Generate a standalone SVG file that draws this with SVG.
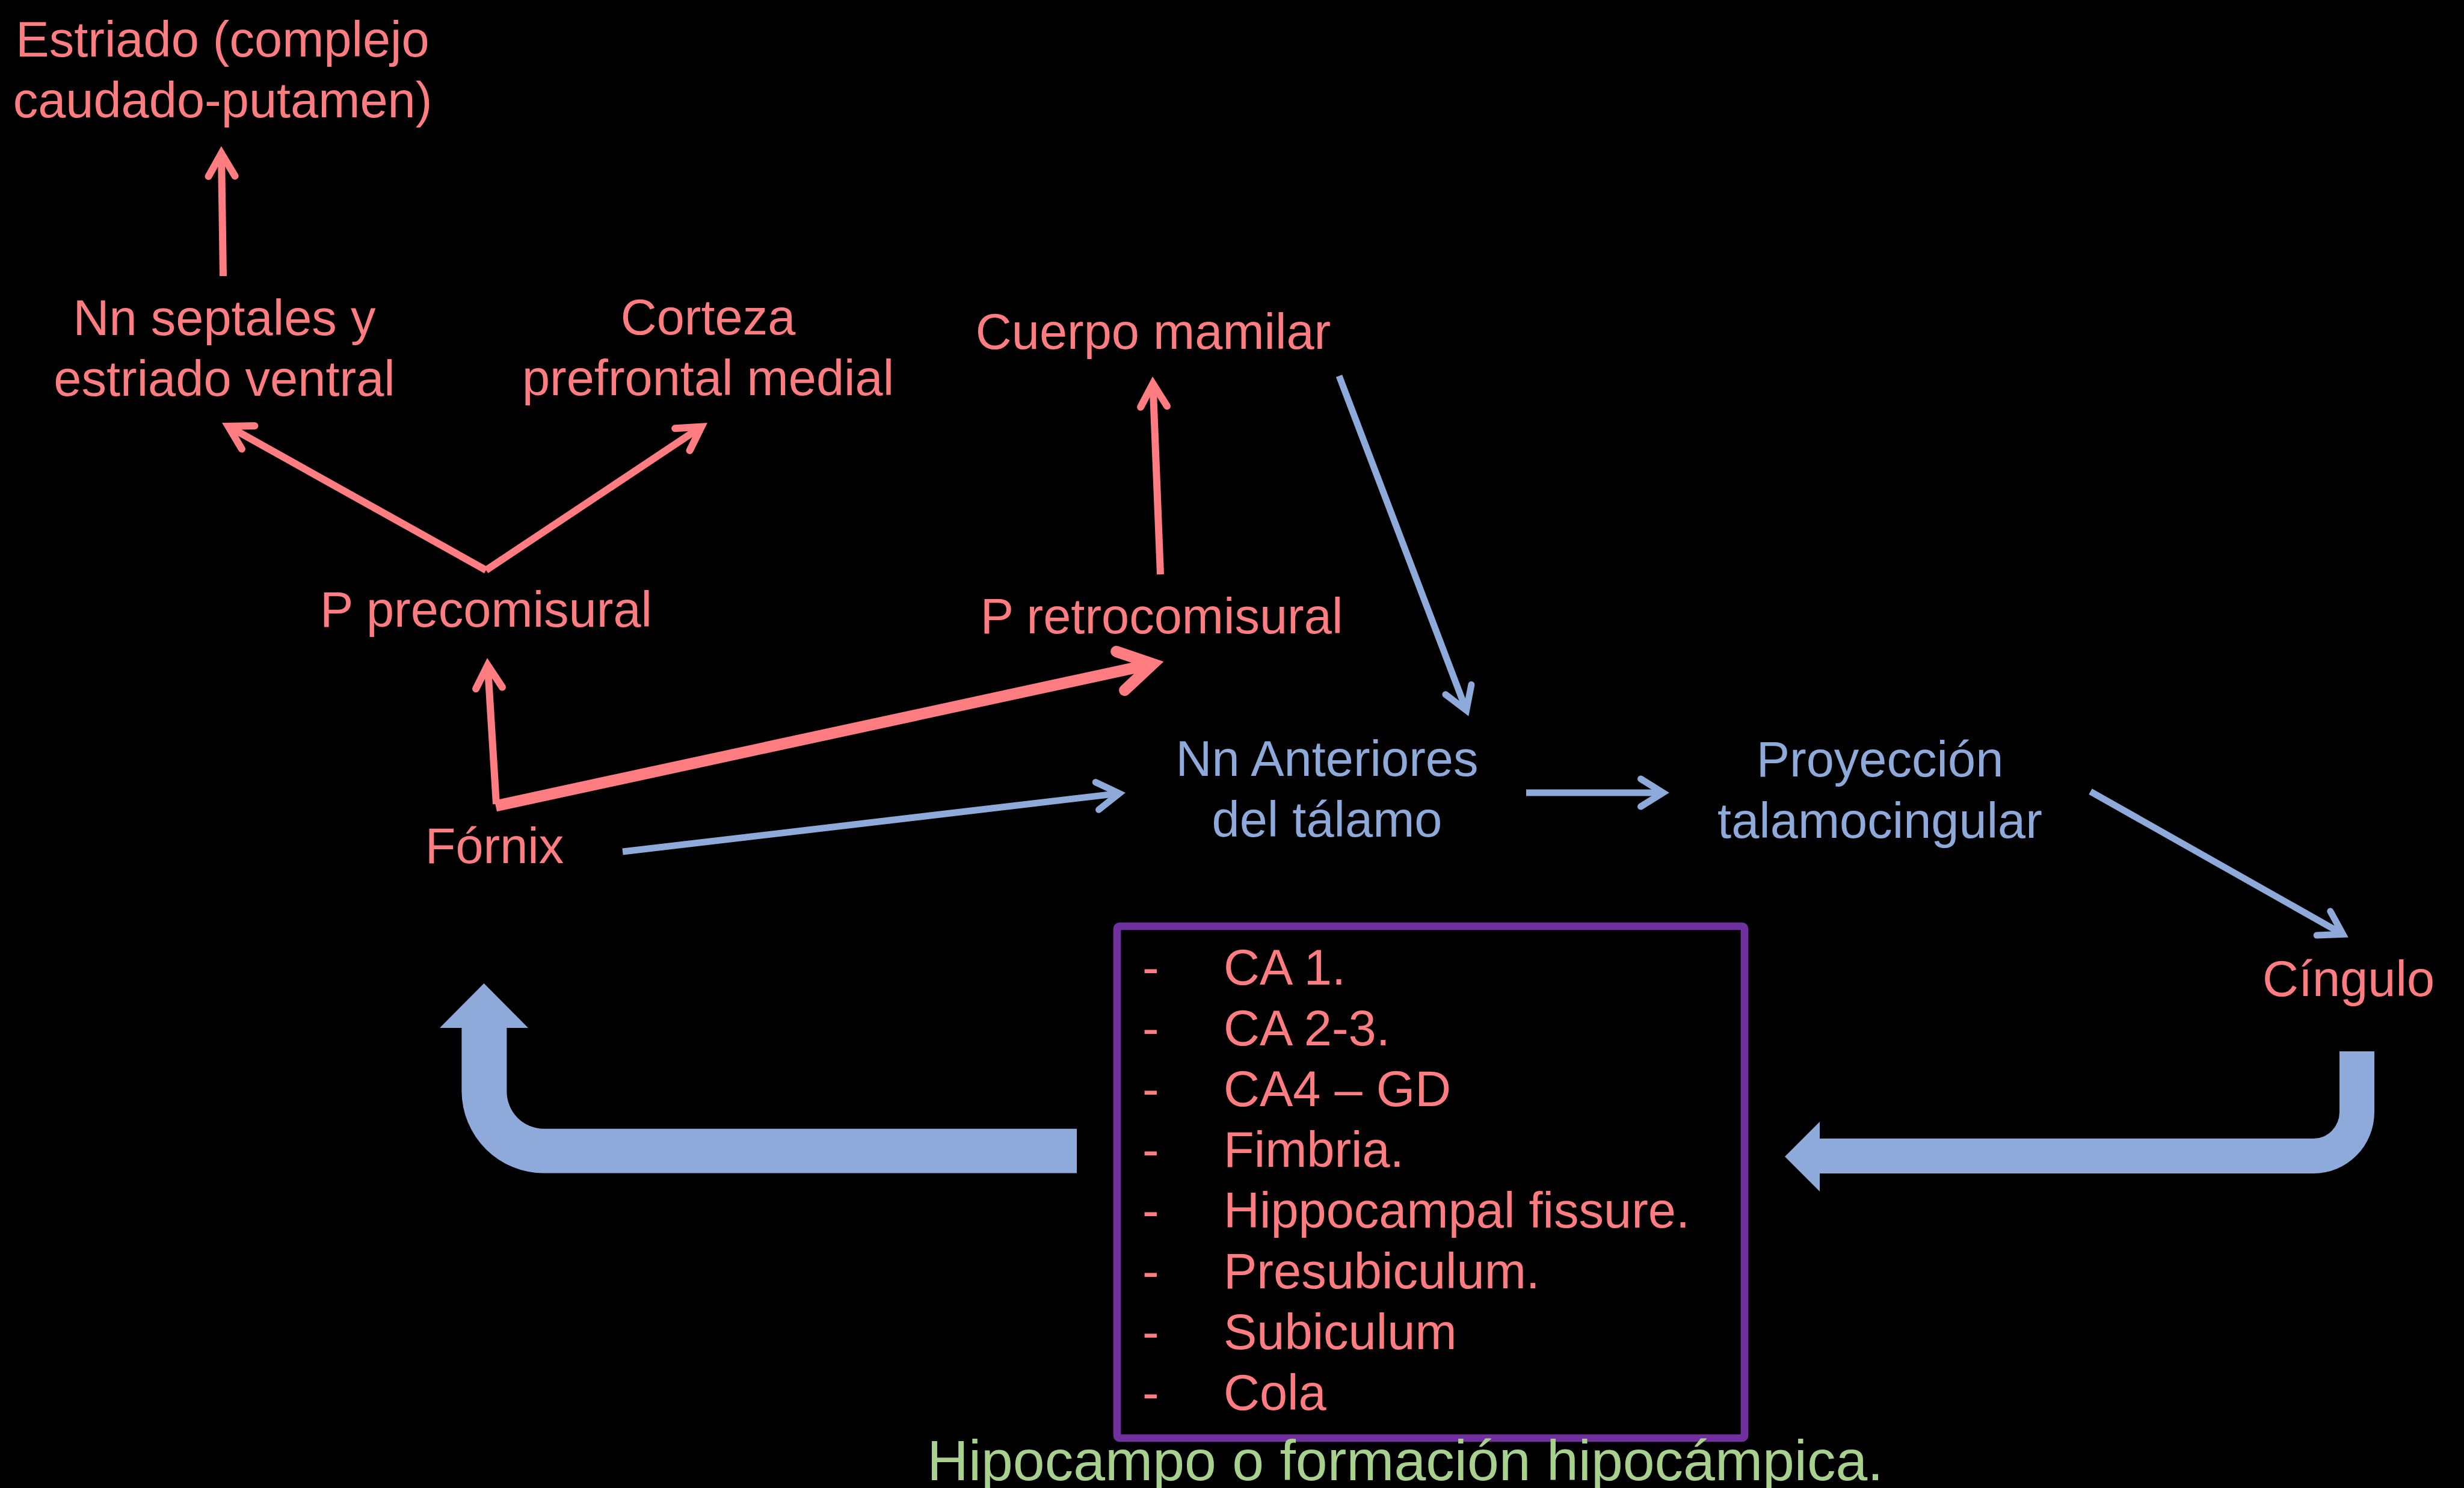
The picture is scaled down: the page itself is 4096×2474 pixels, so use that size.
<svg xmlns="http://www.w3.org/2000/svg" width="4096" height="2474" viewBox="0 0 4096 2474">
<style>
text{font-family:"Liberation Sans",Arial,Helvetica,sans-serif;font-size:83px}
.pk{fill:#FF7C80}
.bl{fill:#8EAADB}
.gr{fill:#A9D18E;font-size:95px}
.m{text-anchor:middle}
.lp{fill:none;stroke:#FF7C80;stroke-width:12}
.lpt{fill:none;stroke:#FF7C80;stroke-width:19}
.lb{fill:none;stroke:#8EAADB;stroke-width:11}
.blk{fill:#8EAADB}
</style>
<defs>
<marker id="hp" markerUnits="userSpaceOnUse" viewBox="-60 -40 90 80" refX="0" refY="0" markerWidth="90" markerHeight="80" orient="auto">
<path d="M-38,-22 L0,0 L-38,22" fill="none" stroke="#FF7C80" stroke-width="12" stroke-linecap="round" stroke-linejoin="miter"/>
</marker>
<marker id="hpt" markerUnits="userSpaceOnUse" viewBox="-80 -55 120 110" refX="0" refY="0" markerWidth="120" markerHeight="110" orient="auto">
<path d="M-55,-33 L0,0 L-55,33" fill="none" stroke="#FF7C80" stroke-width="19" stroke-linecap="round" stroke-linejoin="miter"/>
</marker>
<marker id="hb" markerUnits="userSpaceOnUse" viewBox="-60 -40 90 80" refX="0" refY="0" markerWidth="90" markerHeight="80" orient="auto">
<path d="M-37,-23 L0,0 L-37,23" fill="none" stroke="#8EAADB" stroke-width="11" stroke-linecap="round" stroke-linejoin="miter"/>
</marker>
</defs>
<rect x="0" y="0" width="4096" height="2474" fill="#000"/>

<g id="connectors">
<path class="lp" d="M371,459 L368,255" marker-end="url(#hp)"/>
<path class="lp" d="M808,948 L379.5,708.8" marker-end="url(#hp)"/>
<path class="lp" d="M808,948 L1166,709.6" marker-end="url(#hp)"/>
<path class="lp" d="M825,1337 L810.7,1106" marker-end="url(#hp)"/>
<path class="lp" d="M1929,955 L1916.5,638" marker-end="url(#hp)"/>
<path class="lpt" d="M824,1340 L1916.4,1103.8" marker-end="url(#hpt)"/>
<path class="lb" d="M2226,625 L2437.6,1181.1" marker-end="url(#hb)"/>
<path class="lb" d="M1035,1416 L1860.6,1319.1" marker-end="url(#hb)"/>
<path class="lb" d="M2537,1318 L2764.5,1318" marker-end="url(#hb)"/>
<path class="lb" d="M3475,1316 L3894.7,1553.3" marker-end="url(#hb)"/>
<path id="block-left" class="blk" d="M731,1709 L804.5,1635 L878,1709 L842.4,1709 L842.4,1814 A62,62 0 0 0 904.6,1876.8 L1790,1876.8 L1790,1950.6 L904.6,1950.6 A137,137 0 0 1 767.4,1814 L767.4,1709 Z"/>
<path id="block-right" class="blk" d="M3889,1748 L3947,1748 L3947,1849 A101,102 0 0 1 3846,1951 L3025,1951 L3025,1981 L2967,1923 L3025,1865 L3025,1893 L3846,1893 A43,44 0 0 0 3889,1849 Z"/>
</g>

<g id="estriado"><text class="pk m" x="370" y="94">Estriado (complejo</text><text class="pk m" x="370" y="195">caudado-putamen)</text></g>
<g id="nn-septales"><text class="pk m" x="373" y="557">Nn septales y</text><text class="pk m" x="373" y="658">estriado ventral</text></g>
<g id="corteza"><text class="pk m" x="1177" y="556">Corteza</text><text class="pk m" x="1177" y="657">prefrontal medial</text></g>
<g id="cuerpo-mamilar"><text class="pk m" x="1917" y="580">Cuerpo mamilar</text></g>
<g id="p-precomisural"><text class="pk m" x="808" y="1042">P precomisural</text></g>
<g id="p-retrocomisural"><text class="pk m" x="1931" y="1053">P retrocomisural</text></g>
<g id="fornix"><text class="pk m" x="822" y="1435">Fórnix</text></g>
<g id="nn-anteriores"><text class="bl m" x="2206" y="1290">Nn Anteriores</text><text class="bl m" x="2206" y="1391">del tálamo</text></g>
<g id="proyeccion"><text class="bl m" x="3125" y="1291">Proyección</text><text class="bl m" x="3125" y="1393">talamocingular</text></g>
<g id="cingulo"><text class="pk m" x="3904" y="1656">Cíngulo</text></g>

<g id="hipocampo">
<rect x="1857" y="1540" width="1043" height="851" rx="4" fill="none" stroke="#7030A0" stroke-width="12.7"/>
<text class="pk" x="1899" y="1637">-</text><text class="pk" x="2034" y="1637">CA 1.</text>
<text class="pk" x="1899" y="1738">-</text><text class="pk" x="2034" y="1738">CA 2-3.</text>
<text class="pk" x="1899" y="1839">-</text><text class="pk" x="2034" y="1839">CA4 – GD</text>
<text class="pk" x="1899" y="1940">-</text><text class="pk" x="2034" y="1940">Fimbria.</text>
<text class="pk" x="1899" y="2041">-</text><text class="pk" x="2034" y="2041">Hippocampal fissure.</text>
<text class="pk" x="1899" y="2142">-</text><text class="pk" x="2034" y="2142">Presubiculum.</text>
<text class="pk" x="1899" y="2243">-</text><text class="pk" x="2034" y="2243">Subiculum</text>
<text class="pk" x="1899" y="2344">-</text><text class="pk" x="2034" y="2344">Cola</text>
<text class="gr m" x="2336" y="2461">Hipocampo o formación hipocámpica.</text>
</g>
</svg>
